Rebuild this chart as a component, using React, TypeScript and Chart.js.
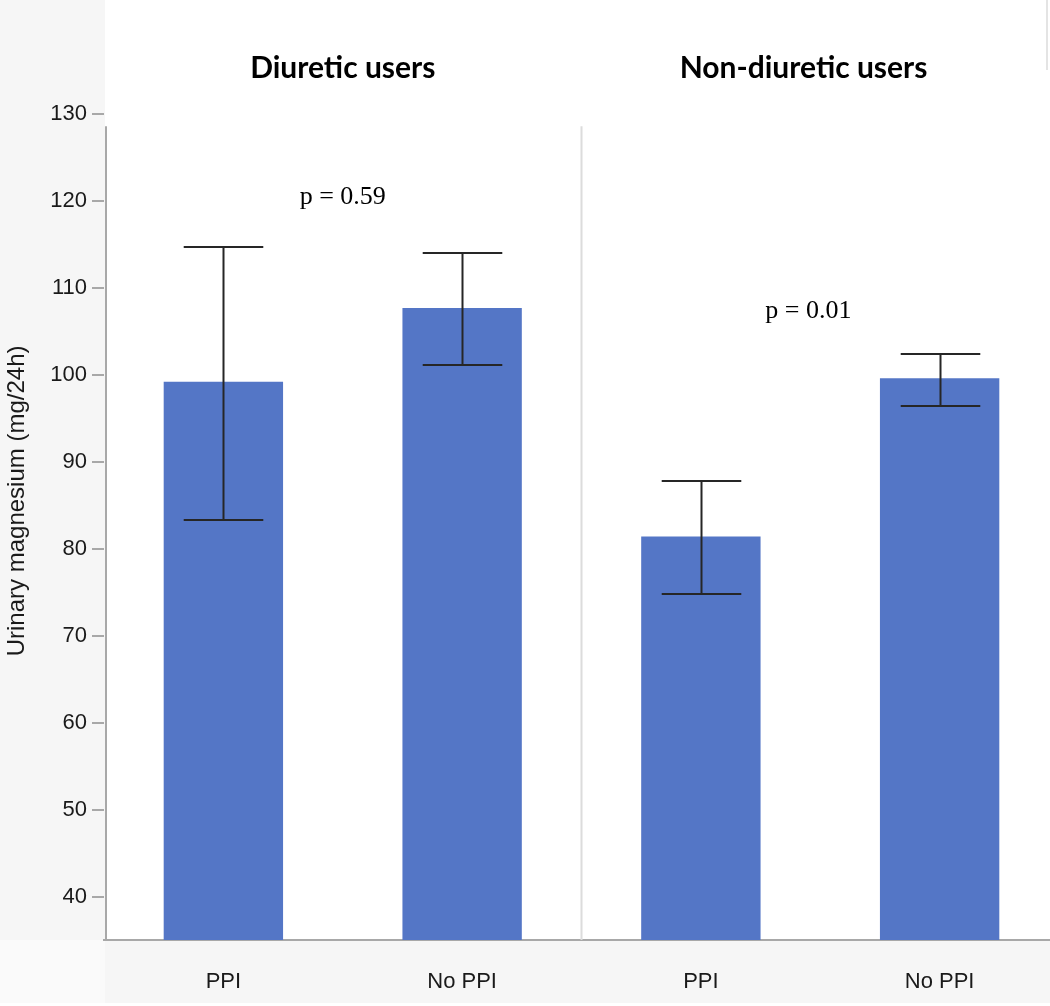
import React, { useEffect, useRef } from "react";
import { Chart, registerables } from "chart.js";

Chart.register(...registerables);

const categories = ["PPI", "No PPI", "PPI", "No PPI"];
const means = [99.2, 107.7, 81.4, 99.6];
const errHigh = [114.7, 114.0, 87.8, 102.4];
const errLow = [83.3, 101.1, 74.8, 96.4];
const yTicks = [40, 50, 60, 70, 80, 90, 100, 110, 120, 130];
const yTitle = "Urinary magnesium (mg/24h)";
const groupTitles = ["Diuretic users", "Non-diuretic users"];
const groupTitleAt = [0.5, 2.43];
const pLabels = ["p = 0.59", "p = 0.01"];
const pLabelAt = [0.5, 2.45];
const pLabelY = [120.4, 107.3];

const W = 1062;
const H = 1006;

const decorPlugin = {
  id: "decor",
  beforeDraw(chart: any) {
    const { ctx, chartArea } = chart;
    ctx.save();
    ctx.fillStyle = "#ffffff";
    ctx.fillRect(0, 0, chart.width, chart.height);
    ctx.fillStyle = "#f6f6f6";
    ctx.fillRect(0, 0, chartArea.left + 1, chartArea.bottom);
    ctx.fillRect(0, chartArea.bottom, chart.width, chart.height - 3 - chartArea.bottom);
    ctx.fillStyle = "#fafafa";
    ctx.fillRect(0, chartArea.bottom, chartArea.left + 1, chart.height - 3 - chartArea.bottom);
    // window edge line top-right
    ctx.strokeStyle = "#e4e4e4";
    ctx.lineWidth = 2;
    ctx.beginPath();
    ctx.moveTo(1047, 0);
    ctx.lineTo(1047, 70);
    ctx.stroke();
    ctx.restore();
  },
  beforeDatasetsDraw(chart: any) {
    const { ctx, chartArea, scales } = chart;
    const x = scales.x;
    const y = scales.y;
    ctx.save();
    // divider between groups
    ctx.strokeStyle = "#dcdcdc";
    ctx.lineWidth = 2;
    ctx.beginPath();
    const dx = x.getPixelForValue(1.5);
    ctx.moveTo(dx, y.getPixelForValue(128.6));
    ctx.lineTo(dx, chartArea.bottom);
    ctx.stroke();
    // y axis line
    ctx.strokeStyle = "#a8a8a8";
    ctx.beginPath();
    ctx.moveTo(chartArea.left + 2, y.getPixelForValue(128.6));
    ctx.lineTo(chartArea.left + 2, chartArea.bottom);
    ctx.stroke();
    // y axis title
    ctx.fillStyle = "#1a1a1a";
    ctx.font = "24px 'Liberation Sans'";
    ctx.textAlign = "center";
    ctx.textBaseline = "middle";
    ctx.translate(17, y.getPixelForValue(85.5));
    ctx.rotate(-Math.PI / 2);
    ctx.fillText(yTitle, 0, 0);
    ctx.restore();
  },
  afterDatasetsDraw(chart: any) {
    const { ctx, scales } = chart;
    const x = scales.x;
    const y = scales.y;
    const meta = chart.getDatasetMeta(0);
    ctx.save();
    ctx.strokeStyle = "#262626";
    ctx.lineWidth = 2;
    meta.data.forEach((bar: any, i: number) => {
      const cx = Math.round(bar.x) + 0.5;
      const half = bar.width / 3;
      const yh = Math.round(y.getPixelForValue(errHigh[i]));
      const yl = Math.round(y.getPixelForValue(errLow[i]));
      ctx.beginPath();
      ctx.moveTo(cx, yh);
      ctx.lineTo(cx, yl);
      ctx.moveTo(cx - half, yh);
      ctx.lineTo(cx + half, yh);
      ctx.moveTo(cx - half, yl);
      ctx.lineTo(cx + half, yl);
      ctx.stroke();
    });
    // group titles
    ctx.fillStyle = "#000000";
    ctx.textAlign = "center";
    ctx.textBaseline = "alphabetic";
    ctx.font = "bold 30px Lato";
    groupTitles.forEach((t, i) => {
      ctx.fillText(t, x.getPixelForValue(groupTitleAt[i]), 78);
    });
    // p-values
    ctx.font = "26px 'Liberation Serif'";
    ctx.textBaseline = "middle";
    pLabels.forEach((t, i) => {
      ctx.fillText(t, x.getPixelForValue(pLabelAt[i]), y.getPixelForValue(pLabelY[i]));
    });
    ctx.restore();
  },
};

export default function App() {
  const ref = useRef<HTMLCanvasElement>(null);
  useEffect(() => {
    if (!ref.current) return;
    const chart = new Chart(ref.current, {
      type: "bar",
      data: {
        labels: categories,
        datasets: [
          {
            data: means,
            backgroundColor: "#5476c6",
            borderWidth: 0,
            barPercentage: 0.5,
            categoryPercentage: 1,
          },
        ],
      },
      options: {
        responsive: false,
        animation: false,
        devicePixelRatio: 1,
        layout: { padding: { top: 114, right: 3, left: 0, bottom: 0 } },
        plugins: {
          legend: { display: false },
          tooltip: { enabled: false },
          title: { display: false },
        },
        scales: {
          x: {
            grid: { display: false },
            border: { display: true, color: "#a8a8a8", width: 2 },
            ticks: {
              font: { family: "'Liberation Sans'", size: 22 },
              color: "#1a1a1a",
              padding: 21,
            },
            afterFit(scale: any) {
              scale.height = 66;
            },
          },
          y: {
            min: 35,
            max: 130,
            afterBuildTicks(scale: any) {
              scale.ticks = yTicks.map((v) => ({ value: v }));
            },
            grid: {
              display: true,
              drawOnChartArea: false,
              drawTicks: true,
              tickLength: 12,
              color: "#a8a8a8",
              lineWidth: 2,
            },
            border: { display: false },
            ticks: {
              font: { family: "'Liberation Sans'", size: 22 },
              color: "#1a1a1a",
              padding: 5,
            },
            title: { display: false },
            afterFit(scale: any) {
              scale.width = 104;
            },
          },
        },
      },
      plugins: [decorPlugin],
    } as any);
    return () => chart.destroy();
  }, []);
  return (
    <div
      style={{
        position: "fixed",
        left: 0,
        top: 0,
        width: 1050,
        height: 1006,
        overflow: "hidden",
        background: "#ffffff",
      }}
    >
      <canvas ref={ref} width={W} height={H} style={{ display: "block", width: W, height: H }} />
    </div>
  );
}
